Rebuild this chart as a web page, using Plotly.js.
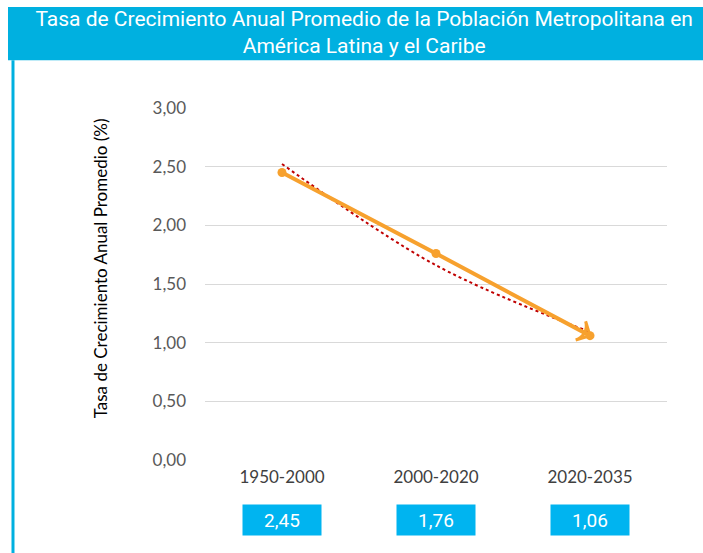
<!DOCTYPE html>
<html><head><meta charset="utf-8">
<script src="https://cdn.plot.ly/plotly-3.0.1.min.js"></script>
<style>html,body{margin:0;padding:0;background:#fff}#chart{width:703px;height:553px}</style>
</head><body><div id="chart"></div>
<script>
const categories = ['1950-2000', '2000-2020', '2020-2035'];
const values = [2.45, 1.76, 1.06];
const valueLabels = ['2,45', '1,76', '1,06'];
const yTicks = [0, 0.5, 1, 1.5, 2, 2.5, 3];
const yTickLabels = ['0,00', '0,50', '1,00', '1,50', '2,00', '2,50', '3,00'];

// exponential trendline (least squares on ln y), as the spreadsheet draws it
const n = values.length;
const xs = values.map((v, i) => i + 1);
const ly = values.map(v => Math.log(v));
const mx = xs.reduce((a, b) => a + b, 0) / n, my = ly.reduce((a, b) => a + b, 0) / n;
let sxy = 0, sxx = 0;
for (let i = 0; i < n; i++) { sxy += (xs[i] - mx) * (ly[i] - my); sxx += (xs[i] - mx) ** 2; }
const slope = sxy / sxx, icpt = my - slope * mx;
const trend = xs.map(x => Math.exp(icpt + slope * x));

const orange = '#F7A12E';
const blue = '#00B0E0';

const traces = [
  {x: categories, y: trend, type: 'scatter', mode: 'lines', line: {color: '#C00000', width: 2, dash: 'dot', shape: 'spline'}, hoverinfo: 'skip'},
  {x: categories, y: values, type: 'scatter', mode: 'lines+markers', line: {color: orange, width: 4}, marker: {color: orange, size: 9}},
  {x: categories.slice(1), y: values.slice(1), type: 'scatter', mode: 'markers',
   marker: {symbol: 'arrow-wide-open', angleref: 'previous', size: [0, 15], opacity: [0, 1], color: orange, line: {color: orange, width: 3}}}
];

const annotations = categories.map((c, i) => ({
  x: c, xref: 'x', y: -0.17, yref: 'paper', yanchor: 'middle', text: valueLabels[i], showarrow: false,
  bgcolor: '#00B4F0', width: 72, height: 24, borderpad: 3,
  font: {family: 'Roboto, sans-serif', size: 19, color: '#ffffff'}
}));
annotations.push({
  text: 'Tasa de Crecimiento Anual Promedio (%)', textangle: -90, showarrow: false,
  xref: 'paper', yref: 'paper', x: -0.227, y: 0.545, xanchor: 'center', yanchor: 'middle',
  font: {family: 'Lato, sans-serif', size: 17, color: '#000000'}
});

const layout = {
  width: 703, height: 553,
  margin: {l: 205, r: 36, t: 108, b: 93},
  paper_bgcolor: '#ffffff', plot_bgcolor: '#ffffff',
  showlegend: false,
  title: {text: 'Tasa de Crecimiento Anual Promedio de la Población Metropolitana en<br>América Latina y el Caribe',
    x: 0.518, xanchor: 'center', y: 0.953, yanchor: 'middle', xref: 'container', yref: 'container',
    font: {family: 'Roboto, sans-serif', size: 21, color: '#ffffff'}},
  xaxis: {type: 'category', showgrid: false, zeroline: false, showline: false, ticks: '', ticklabelstandoff: 5,
    tickfont: {family: 'Lato, sans-serif', size: 17, color: '#404040'}, range: [-0.5, 2.5], fixedrange: true},
  yaxis: {range: [0, 3], tickvals: yTicks, ticktext: yTickLabels, showgrid: true, gridcolor: '#D9D9D9', gridwidth: 1,
    zeroline: false, showline: false, ticks: '', ticklabelstandoff: 18,
    tickfont: {family: 'Lato, sans-serif', size: 17, color: '#595959'}},
  shapes: [
    {type: 'rect', xref: 'paper', yref: 'paper', x0: -0.4264, x1: 1.08, y0: 1.136, y1: 1.287, fillcolor: blue, line: {width: 0}, layer: 'below'},
    {type: 'line', xref: 'paper', yref: 'paper', x0: -0.4156, x1: -0.4156, y0: 1.136, y1: -0.27, line: {color: blue, width: 3}}
  ],
  annotations: annotations
};
Plotly.newPlot('chart', traces, layout, {displayModeBar: false, staticPlot: true});
</script></body></html>
